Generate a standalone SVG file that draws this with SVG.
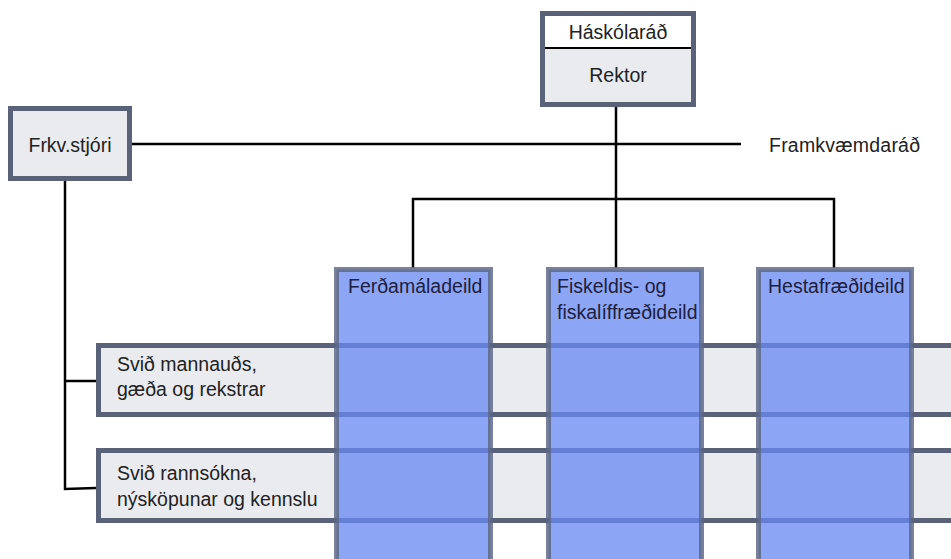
<svg xmlns="http://www.w3.org/2000/svg" width="951" height="559" viewBox="0 0 951 559">
<style>
text{font-family:"Liberation Sans",Arial,sans-serif;font-size:19.5px;fill:#222}
.box{fill:#e9ebef;stroke:#5a6279;stroke-width:5}
.col{fill:rgba(105,137,242,0.76);stroke:rgba(92,102,132,0.82);stroke-width:5}
.col-t{fill:#1c2140}
.ln{stroke:#000;stroke-width:2.5;fill:none}
</style>
<rect width="951" height="559" fill="#fff"/>
<g id="connectors">
<line class="ln" x1="616" y1="105" x2="616" y2="268"/>
<line class="ln" x1="130" y1="144" x2="741" y2="144"/>
<polyline class="ln" points="413,268 413,199 834,199 834,268"/>
<polyline class="ln" points="65,180 65,489 96,488"/>
<line class="ln" x1="65" y1="381" x2="96" y2="381"/>
</g>
<g id="rektor">
<rect x="542.5" y="13.5" width="151" height="91" class="box"/>
<rect x="545" y="16" width="146" height="32" fill="#fff"/>
<line x1="545" y1="48" x2="691" y2="48" stroke="#000" stroke-width="2"/>
<text x="618" y="39" text-anchor="middle">Háskólaráð</text>
<text x="618" y="82" text-anchor="middle">Rektor</text>
</g>
<g id="frkv">
<rect x="10.5" y="108.5" width="119" height="70" class="box"/>
<text x="70" y="152" text-anchor="middle">Frkv.stjóri</text>
</g>
<g id="framkvaemdarad">
<text x="769" y="152" textLength="151" lengthAdjust="spacing">Framkvæmdaráð</text>
</g>
<g id="svid1">
<rect x="98.5" y="345.5" width="870" height="69" class="box"/>
<text x="117" y="371">Svið mannauðs,</text>
<text x="117" y="396">gæða og rekstrar</text>
</g>
<g id="svid2">
<rect x="98.5" y="450.5" width="870" height="70" class="box"/>
<text x="117" y="480">Svið rannsókna,</text>
<text x="117" y="506">nýsköpunar og kennslu</text>
</g>
<g id="ferdamaladeild">
<rect x="336.5" y="269.5" width="154" height="300" class="col"/>
<text x="348" y="293" class="col-t">Ferðamáladeild</text>
</g>
<g id="fiskeldisdeild">
<rect x="548.5" y="269.5" width="153" height="300" class="col"/>
<text x="557" y="293" class="col-t">Fiskeldis- og</text>
<text x="557" y="319" class="col-t">fiskalíffræðideild</text>
</g>
<g id="hestafraedideild">
<rect x="758.5" y="269.5" width="153" height="300" class="col"/>
<text x="768" y="293" class="col-t">Hestafræðideild</text>
</g>
</svg>
